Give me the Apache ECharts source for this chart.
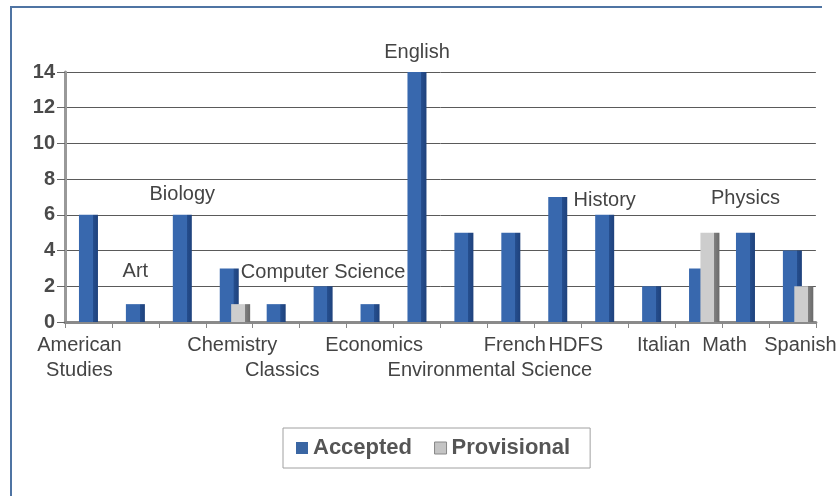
<!DOCTYPE html>
<html>
<head>
<meta charset="utf-8">
<script src="https://cdn.jsdelivr.net/npm/echarts@6/dist/echarts.min.js"></script>
<style>
  html, body { margin: 0; padding: 0; background: #fff; }
  #chart { width: 839px; height: 496px; }
  #frame { position: absolute; left: 10px; top: 6px; width: 810px; height: 500px;
           border-top: 2px solid #4f74a3; border-left: 2px solid #4f74a3; pointer-events: none; }
</style>
</head>
<body>
<div id="chart"></div>
<div id="frame"></div>
<script>
const categories = ['American Studies', 'Art', 'Biology', 'Chemistry', 'Classics', 'Computer Science',
  'Economics', 'English', 'Environmental Science', 'French', 'HDFS', 'History', 'Italian', 'Math',
  'Physics', 'Spanish'];
const accepted    = [6, 1, 6, 3, 1, 2, 1, 14, 5, 5, 7, 6, 2, 3, 5, 4];
const provisional = [0, 0, 0, 1, 0, 0, 0, 0, 0, 0, 0, 0, 0, 5, 0, 2];
const seriesNames = ['Accepted', 'Provisional'];
const yMin = 0, yMax = 14, yStep = 2;

// categories whose name is drawn above the bar instead of under the axis
const aboveLabelCats = ['Art', 'Biology', 'Computer Science', 'English', 'History', 'Physics'];
// categories whose name sits on the second line below the axis
const secondRowCats = ['Classics', 'Environmental Science'];

// layout only: gap between bar top and its name label
const aboveLabelGap = { 'Art': 23, 'Biology': 10, 'Computer Science': 4, 'English': 10, 'History': 4, 'Physics': 24 };
// layout only: horizontal nudge of some axis labels (px, + = right)
const labelNudge = { 'American Studies': -9, 'Chemistry': 3, 'Classics': 6, 'Economics': 4,
  'Environmental Science': 26, 'French': 4, 'HDFS': 18, 'Italian': 12, 'Math': 26, 'Spanish': 8 };

const FONT = 'Liberation Sans, Arial, sans-serif';

const blueFace = new echarts.graphic.LinearGradient(0, 0, 1, 0, [
  { offset: 0, color: '#3868ae' }, { offset: 0.72, color: '#3868ae' },
  { offset: 0.73, color: '#254e8e' }, { offset: 1, color: '#1f427c' }
]);
const grayFace = new echarts.graphic.LinearGradient(0, 0, 1, 0, [
  { offset: 0, color: '#cdcdcd' }, { offset: 0.72, color: '#cdcdcd' },
  { offset: 0.73, color: '#808080' }, { offset: 1, color: '#6a6a6a' }
]);

const acceptedData = accepted.map((v, i) => {
  const name = categories[i];
  if (aboveLabelCats.indexOf(name) >= 0) {
    return { value: v, label: { show: true, position: 'top', distance: aboveLabelGap[name],
      formatter: name, fontSize: 20, color: '#444', fontFamily: FONT } };
  }
  return v;
});

// rich styles that shift labels horizontally
const nudgeKeys = Object.keys(labelNudge);
const rich = {};
nudgeKeys.forEach((k, idx) => {
  const n = labelNudge[k];
  rich['n' + idx] = { fontSize: 20, color: '#444', fontFamily: FONT, lineHeight: 25,
    padding: n >= 0 ? [0, 0, 0, 2 * n] : [0, -2 * n, 0, 0] };
});
rich.p = { fontSize: 20, color: '#444', fontFamily: FONT, lineHeight: 25 };

const chart = echarts.init(document.getElementById('chart'), null, { renderer: 'canvas' });
chart.setOption({
  animation: false,
  backgroundColor: '#fff',
  grid: { left: 65, right: 6, top: 72, bottom: 174, containLabel: false },
  legend: {
    data: [
      { name: seriesNames[0], icon: 'rect', itemStyle: { color: '#3a66a3' } },
      { name: seriesNames[1], icon: 'rect', itemStyle: { color: '#c4c4c4', borderColor: '#888', borderWidth: 1 } }
    ],
    left: 283, top: 428,
    padding: [9, 20, 9, 13],
    borderColor: '#a0a0a0', borderWidth: 1,
    itemWidth: 12, itemHeight: 12, itemGap: 22,
    textStyle: { fontSize: 22, fontWeight: 'bold', color: '#555', fontFamily: FONT }
  },
  xAxis: {
    type: 'category',
    data: categories,
    axisLine: { lineStyle: { color: '#8a8a8a', width: 3 } },
    axisTick: { show: true, length: 6, lineStyle: { color: '#888', width: 1 } },
    axisLabel: {
      interval: 0, margin: 11, fontSize: 20, lineHeight: 25, color: '#444',
      fontFamily: FONT, rich: rich,
      formatter: function (name) {
        if (aboveLabelCats.indexOf(name) >= 0) return '';
        const k = nudgeKeys.indexOf(name);
        const tag = k >= 0 ? 'n' + k : 'p';
        const lines = name === 'American Studies' ? ['American', 'Studies'] : [name];
        let txt = lines.map(l => '{' + tag + '|' + l + '}').join('\n');
        if (secondRowCats.indexOf(name) >= 0) txt = '{p| }\n' + txt;
        return txt;
      }
    },
    splitLine: { show: false }
  },
  yAxis: {
    type: 'value', min: yMin, max: yMax, interval: yStep,
    axisLine: { show: true, lineStyle: { color: '#999', width: 3 } },
    axisTick: { show: true, length: 8, lineStyle: { color: '#666' } },
    axisLabel: { fontSize: 20, fontWeight: 'bold', color: '#4a4a4a', margin: 10, fontFamily: FONT },
    splitLine: { lineStyle: { color: '#5a5a5a', width: 1 } }
  },
  series: [
    // empty spacer so the Accepted bar sits at the category centre
    { name: 'spacer', type: 'bar', data: [], barWidth: 19, barGap: '-40%', silent: true },
    { name: seriesNames[0], type: 'bar', data: acceptedData, barWidth: 19, barGap: '-40%',
      itemStyle: { color: blueFace }, z: 2 },
    { name: seriesNames[1], type: 'bar', data: provisional, barWidth: 19,
      itemStyle: { color: grayFace }, z: 3 }
  ]
});
</script>
</body>
</html>
